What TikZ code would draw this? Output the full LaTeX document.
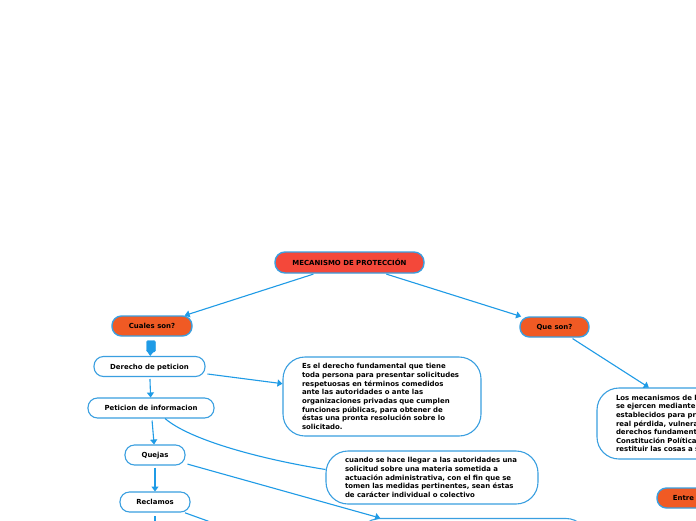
\documentclass[tikz,border=0pt]{standalone}
\usepackage{fontspec}
\setmainfont{DejaVu Sans}
\usetikzlibrary{arrows.meta}
\definecolor{linkblue}{HTML}{1F9BE6}
\definecolor{edgeblue}{HTML}{3A9FE0}
\definecolor{titlered}{HTML}{F4483A}
\definecolor{headorange}{HTML}{F05A24}
\tikzset{
  x=1pt,y=-1pt,
  txt/.style={font=\fontsize{6.95}{8.62}\selectfont\bfseries,text=black},
  base/.style={txt,draw=edgeblue,line width=1.1pt,inner sep=0pt,outer sep=0.5pt,align=center,rounded corners=9.5pt},
  single/.style={text height=5.5pt,text depth=0.5pt},
  titlebox/.style={base,single,fill=titlered,line width=1.4pt,rounded corners=10pt},
  headbox/.style={base,single,fill=headorange,line width=1.4pt,rounded corners=9.5pt},
  itembox/.style={base,single,fill=white},
  descbox/.style={base,fill=white,rounded corners=22pt,align=left},
  conn/.style={draw=linkblue,line width=1.1pt,shorten <=2pt,-{Triangle[width=7pt,length=5pt]}},
  plainconn/.style={draw=linkblue,line width=1.1pt}
}
\begin{document}
\begin{tikzpicture}
\useasboundingbox (0,0) rectangle (696,520);
\clip (0,0) rectangle (696,520);
\path[fill=white] (0,0) rectangle (696,520);
% nodes
\node[titlebox,minimum width=149pt,minimum height=21pt] (title) at (349.5,262.5) {MECANISMO DE PROTECCIÓN};
\node[headbox,minimum width=80pt,minimum height=20pt] (cuales) at (152,326) {Cuales son?};
\node[headbox,minimum width=69pt,minimum height=20pt] (que) at (554.5,327) {Que son?};
\node[headbox,minimum width=53pt,minimum height=20pt] (entre) at (683.5,498) {Entre};
\node[itembox,minimum width=111pt,minimum height=20pt] (derecho) at (149.5,366.5) {Derecho de peticion};
\node[itembox,minimum width=126pt,minimum height=20pt] (peticion) at (151,408) {Peticion de informacion};
\node[itembox,minimum width=60pt,minimum height=20pt] (quejas) at (155,455) {Quejas};
\node[itembox,minimum width=70pt,minimum height=20pt] (reclamos) at (155,502) {Reclamos};
\node[descbox,minimum width=198pt,minimum height=79pt,text width=160pt] (desc1) at (382,396.5) {Es el derecho fundamental que tiene\\toda persona para presentar solicitudes\\respetuosas en términos comedidos\\ante las autoridades o ante las\\organizaciones privadas que cumplen\\funciones públicas, para obtener de\\éstas una pronta resolución sobre lo\\solicitado.};
\node[descbox,minimum width=212pt,minimum height=53pt,text width=174pt] (desc2) at (432,477.5) {cuando se hace llegar a las autoridades una\\solicitud sobre una materia sometida a\\actuación administrativa, con el fin que se\\tomen las medidas pertinentes, sean éstas\\de carácter individual o colectivo};
\node[descbox,minimum width=216pt,minimum height=71pt,text width=178pt] (desc3) at (705,423.5) {Los mecanismos de l\\se ejercen mediante\\establecidos para pr\\real pérdida, vulnera\\derechos fundament\\Constitución Política\\restituir las cosas a s};
\node[descbox,minimum width=230pt,minimum height=51pt,text width=190pt] (desc4) at (473,544) {};
\coordinate (downend) at (155,530);
\coordinate (rightend) at (215,523.6);
% connectors
\draw[conn] (title) -- (cuales);
\draw[conn] (title) -- (que);
\draw[conn] (que) -- (desc3);
\draw[linkblue,fill=linkblue,rounded corners=1.5pt] (146.5,340.5) rectangle (155.5,352);
\draw[conn,shorten <=12pt] (cuales) -- (derecho);
\draw[conn] (derecho) -- (desc1);
\draw[conn] (derecho) -- (peticion);
\draw[conn] (peticion) -- (quejas);
\draw[conn] (quejas) -- (reclamos);
\draw[conn] (quejas) -- (desc4);
\draw[plainconn] ([xshift=14pt]peticion.south) .. controls (190,440) and (260,459) .. ([yshift=8pt]desc2.west);
\draw[plainconn,shorten <=14pt] (reclamos.center) -- (downend);
\draw[plainconn,shorten <=32pt] (reclamos.center) -- (rightend);
\end{tikzpicture}
\end{document}
